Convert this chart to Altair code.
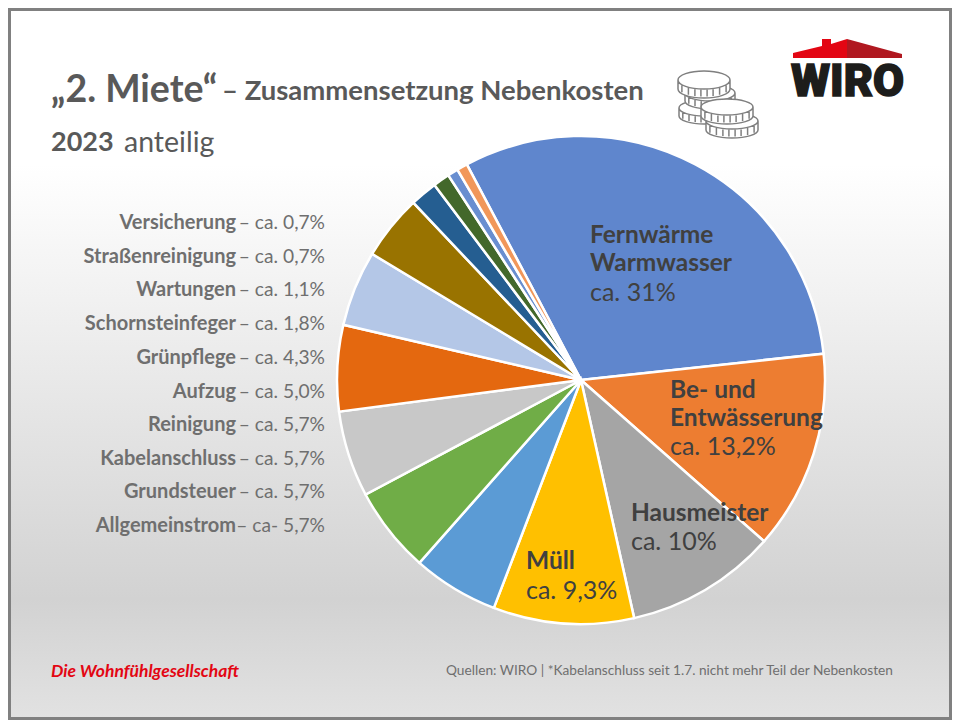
import math
import altair as alt
import pandas as pd

OFF = 8
W, H = 944, 712

slice_names = ["Fernwärme Warmwasser", "Be- und Entwässerung", "Hausmeister", "Müll",
               "Allgemeinstrom", "Grundsteuer", "Kabelanschluss", "Reinigung", "Aufzug",
               "Grünpflege", "Schornsteinfeger", "Wartungen", "Straßenreinigung", "Versicherung"]
slice_values = [31, 13.2, 10, 9.3, 5.7, 5.7, 5.7, 5.7, 5.0, 4.3, 1.8, 1.1, 0.7, 0.7]
slice_colors = ["#5f86cd", "#ed7d31", "#a5a5a5", "#ffc000", "#5b9bd5", "#70ad47", "#c8c8c8",
                "#e4680f", "#b4c7e7", "#997300", "#255e91", "#43682b", "#698ed0", "#f1975a"]

legend_names = ["Versicherung", "Straßenreinigung", "Wartungen", "Schornsteinfeger", "Grünpflege",
                "Aufzug", "Reinigung", "Kabelanschluss", "Grundsteuer", "Allgemeinstrom"]
legend_values = ["– ca. 0,7%", "– ca. 0,7%", "– ca. 1,1%", "– ca. 1,8%", "– ca. 4,3%",
                 "– ca. 5,0%", "– ca. 5,7%", "– ca. 5,7%", "– ca. 5,7%", "– ca- 5,7%"]
legend_y = [223, 257, 290, 324, 358, 392, 425, 459, 492, 526]

FONT = "Lato"


def text_layer(rows, size, color="#404040", weight="normal", align="left", style="normal", font=FONT, **kw):
    df = pd.DataFrame(rows, columns=["t", "x", "y"])
    df["x"] -= OFF
    df["y"] -= OFF
    return alt.Chart(df).mark_text(
        fontSize=size, color=color, fontWeight=weight, align=align, baseline="middle",
        font=font, fontStyle=style, **kw
    ).encode(text="t:N", x=alt.X("x:Q", scale=None, axis=None), y=alt.Y("y:Q", scale=None, axis=None))


one = pd.DataFrame({"a": [0]})


def rect(color, x, x2, y, y2):
    return alt.Chart(one).mark_rect(color=color).encode(
        x=alt.value(x), x2=alt.value(x2), y=alt.value(y), y2=alt.value(y2))


def shape(path, fill, stroke=None, sw=0):
    kw = dict(shape=path, size=4, fill=fill, opacity=1, filled=True)
    if stroke:
        kw.update(stroke=stroke, strokeWidth=sw)
    return alt.Chart(one).mark_point(**kw).encode(x=alt.value(0), y=alt.value(0))


bg = rect(alt.Gradient(gradient="linear", x1=0, x2=0, y1=0, y2=1,
                       stops=[alt.GradientStop(offset=0, color="#ffffff"),
                              alt.GradientStop(offset=0.22, color="#ffffff"),
                              alt.GradientStop(offset=0.83, color="#d2d2d2"),
                              alt.GradientStop(offset=1, color="#e2e2e2")]), 0, W, 0, H)
border = [rect("#808080", 0, 3, 0, H), rect("#808080", W - 3, W, 0, H),
          rect("#808080", 0, W, 0, 3), rect("#808080", 0, W, H - 3, H)]

start = math.radians(-27.9)
pie_df = pd.DataFrame({"name": slice_names, "value": slice_values, "i": range(len(slice_names))})
pie = alt.Chart(pie_df).mark_arc(radius=244, stroke="white", strokeWidth=2.5).encode(
    theta=alt.Theta("value:Q", stack=True, scale=alt.Scale(domain=[0, sum(slice_values)],
                                                           range=[start, start + 2 * math.pi])),
    color=alt.Color("name:N", scale=alt.Scale(domain=slice_names, range=slice_colors), legend=None),
    order=alt.Order("i:Q"),
    x=alt.value(581 - OFF), y=alt.value(380 - OFF),
)


def coin_path(cx, cy, rx, ry, h):
    cx -= OFF
    cy -= OFF
    p = (f"M{cx-rx},{cy}A{rx},{ry} 0 1 1 {cx+rx},{cy}A{rx},{ry} 0 1 1 {cx-rx},{cy}Z"
         f"M{cx-rx},{cy}L{cx-rx},{cy+h}A{rx},{ry} 0 0 0 {cx+rx},{cy+h}L{cx+rx},{cy}A{rx},{ry} 0 0 1 {cx-rx},{cy}Z")
    for f in (-0.85, -0.6, -0.35, -0.12, 0.12, 0.35, 0.6, 0.85):
        yy = ry * math.sqrt(1 - f * f)
        p += f"M{cx+f*rx:.1f},{cy+yy:.1f}L{cx+f*rx:.1f},{cy+yy+h-1.5:.1f}"
    return p


coins = [(704, 108, 25, 8, 8), (710, 93, 25, 8, 8), (704, 80, 26, 9, 9), (732, 121, 26, 8, 9), (727, 107, 26, 8, 9)]
coin_layers = [shape(coin_path(*c), "#ffffff", "#7f7f7f", 1.5) for c in coins]

roof_left = shape("M785,45L814,38L814,31L823,31L823,36L839,31L839,50L785,50Z", "#e30613")
roof_right = shape("M839,31L894,46L894,50L839,50Z", "#b01820")

layers = [bg, pie] + coin_layers + [
    roof_left, roof_right,
    text_layer([("WIRO", 847.5, 82)], 45, "#1d1d1b", 900, "center", font="Roboto",
               stroke="#1d1d1b", strokeWidth=1.5),
    text_layer([("„2. Miete“", 51, 91)], 37.5, "#595959", "bold"),
    text_layer([("– Zusammensetzung Nebenkosten", 222, 92)], 27.5, "#595959", "bold"),
    text_layer([("2023", 51, 143)], 27, "#595959", "bold"),
    text_layer([("anteilig", 124, 143)], 28.5, "#595959"),
    text_layer(list(zip(legend_names, [236] * 10, legend_y)), 20, "#6f6f6f", "bold", "right"),
    text_layer(list(zip(legend_values, [325] * 10, legend_y)), 19.2, "#6f6f6f", "normal", "right"),
    text_layer([("Fernwärme", 590, 236), ("Warmwasser", 590, 264), ("Be- und", 670, 391),
                ("Entwässerung", 670, 419), ("Hausmeister", 631, 514), ("Müll", 526, 562)],
               24.5, "#404040", "bold"),
    text_layer([("ca. 31%", 590, 293), ("ca. 13,2%", 670, 447), ("ca. 10%", 631, 542), ("ca. 9,3%", 526, 591)],
               25, "#404040"),
    text_layer([("Die Wohnfühlgesellschaft", 51, 672)], 17.5, "#e30613", "bold", style="italic"),
    text_layer([("Quellen: WIRO | *Kabelanschluss seit 1.7. nicht mehr Teil der Nebenkosten", 446, 671)],
               13.7, "#6f6f6f"),
] + border

chart = alt.layer(*layers).resolve_scale(color="independent").properties(
    width=W, height=H, padding=0, autosize=alt.AutoSizeParams(type="none")
).configure_view(stroke=None)
chart.save("out.html", embed_options={"renderer": "svg", "actions": False})
